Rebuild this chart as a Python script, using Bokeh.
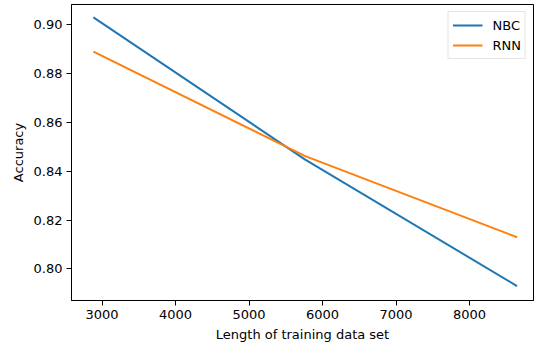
from bokeh.plotting import figure
from bokeh.models import Range1d, FixedTicker, Legend, LegendItem, NumeralTickFormatter
from bokeh.embed import file_html
from bokeh.resources import INLINE

# Data
train_length = [2882, 5764, 8646]
nbc_accuracy = [0.903, 0.8448, 0.793]
rnn_accuracy = [0.889, 0.8462, 0.813]
x_ticks = [3000, 4000, 5000, 6000, 7000, 8000]
y_ticks = [0.80, 0.82, 0.84, 0.86, 0.88, 0.90]

FONT = "DejaVu Sans"

p = figure(width=534, height=344, output_backend="svg", toolbar_location=None,
           x_range=Range1d(2584, 8870), y_range=Range1d(0.7871, 0.9083),
           min_border_left=71, min_border_right=1, min_border_top=4, min_border_bottom=40)

p.xgrid.visible = False
p.ygrid.visible = False
p.outline_line_color = "black"
p.outline_line_width = 1
p.background_fill_color = "white"
p.border_fill_color = "white"

r1 = p.line(train_length, nbc_accuracy, line_color="#1f77b4", line_width=2)
r2 = p.line(train_length, rnn_accuracy, line_color="#ff7f0e", line_width=2)

for ax in (p.xaxis[0], p.yaxis[0]):
    ax.axis_line_color = "black"
    ax.major_tick_line_color = "black"
    ax.major_tick_out = 5
    ax.major_tick_in = 0
    ax.minor_tick_line_color = None
    ax.major_label_text_font = FONT
    ax.major_label_text_font_size = "13px"
    ax.major_label_text_color = "black"
    ax.axis_label_text_font = FONT
    ax.axis_label_text_font_size = "13px"
    ax.axis_label_text_font_style = "normal"
    ax.axis_label_text_color = "black"
    ax.major_label_standoff = 4
    ax.axis_label_standoff = 5

p.xaxis[0].ticker = FixedTicker(ticks=x_ticks)
p.yaxis[0].ticker = FixedTicker(ticks=y_ticks)
p.yaxis[0].formatter = NumeralTickFormatter(format="0.00")
p.xaxis[0].axis_label = "Length of training data set"
p.yaxis[0].axis_label = "Accuracy"

legend = Legend(items=[LegendItem(label="NBC", renderers=[r1]),
                       LegendItem(label="RNN", renderers=[r2])],
                location="top_right")
legend.margin = 7
legend.padding = 4
legend.spacing = 2
legend.glyph_width = 30
legend.glyph_height = 18
legend.label_height = 18
legend.label_standoff = 10
legend.label_text_font = FONT
legend.label_text_font_size = "13px"
legend.label_text_color = "black"
legend.border_line_color = "#cccccc"
legend.border_line_width = 1
legend.background_fill_alpha = 0.8
p.add_layout(legend)

open("out.html", "w").write(file_html(p, INLINE))
